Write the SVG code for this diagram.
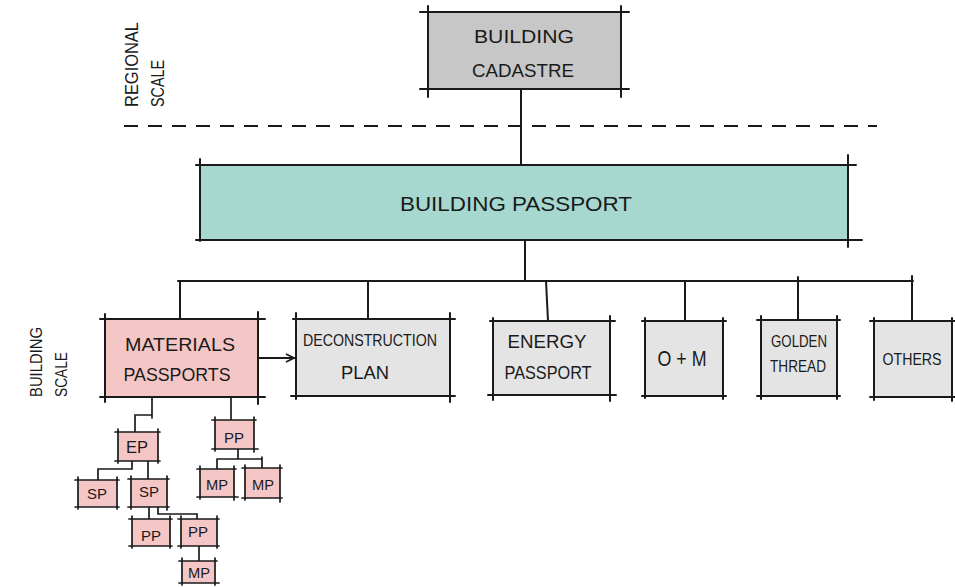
<svg xmlns="http://www.w3.org/2000/svg" width="955" height="587" viewBox="0 0 955 587">
<defs>
<style>
.ln{fill:none;stroke:#1a1a1a;stroke-width:2;stroke-linecap:round}
.thin{fill:none;stroke:#1a1a1a;stroke-width:1.7;stroke-linecap:round}
.t{font-family:"Liberation Sans","DejaVu Sans",sans-serif;fill:#1a1a1a;text-anchor:middle;font-weight:normal}
.side{font-family:"Liberation Sans","DejaVu Sans",sans-serif;fill:#1a1a1a}
.gray{fill:#c7c7c7}
.teal{fill:#a6d8cf}
.pink{fill:#f5c6c6}
.lgray{fill:#e4e4e4}
</style>
<marker id="arr" viewBox="0 0 10 10" refX="9" refY="5" markerWidth="10" markerHeight="10" markerUnits="userSpaceOnUse" orient="auto">
<path d="M1 1 L9 5 L1 9" fill="none" stroke="#1a1a1a" stroke-width="1.6"/>
</marker>
</defs>
<rect width="955" height="587" fill="#ffffff"/>

<g id="labels">
<text class="side" font-size="19" transform="translate(138,107) rotate(-90)" textLength="85" lengthAdjust="spacingAndGlyphs">REGIONAL</text>
<text class="side" font-size="19" transform="translate(164,107) rotate(-90)" textLength="47" lengthAdjust="spacingAndGlyphs">SCALE</text>
<text class="side" font-size="16" transform="translate(42,397) rotate(-90)" textLength="70" lengthAdjust="spacingAndGlyphs">BUILDING</text>
<text class="side" font-size="16" transform="translate(67,397) rotate(-90)" textLength="45" lengthAdjust="spacingAndGlyphs">SCALE</text>
</g>

<g id="divider">
<path d="M124 126 H877" fill="none" stroke="#1a1a1a" stroke-width="1.8" stroke-dasharray="14 10"/>
</g>

<g id="connectors">
<path class="ln" d="M521 89 V165"/>
<path class="ln" d="M525 240 V281"/>
<path class="ln" d="M178 281 H913"/>
<path class="ln" d="M180 281 V319"/>
<path class="ln" d="M368 281 V319"/>
<path class="ln" d="M546 281 L548 321"/>
<path class="ln" d="M685 281 V321"/>
<path class="ln" d="M798 277 V320"/>
<path class="ln" d="M912 276 V321"/>
<path class="ln" d="M258 358 H294" marker-end="url(#arr)"/>
<path class="thin" d="M152 397 V415 H135 V432 M152 412 V418"/>
<path class="thin" d="M231 397 V420"/>
<path class="thin" d="M238 449 V459 M217 459 H262 M217 459 V469 M262 457 V468"/>
<path class="thin" d="M132 461 V469 H98 V480"/>
<path class="thin" d="M148 461 V479"/>
<path class="thin" d="M149 507 V519"/>
<path class="thin" d="M158 507 V514 H197 V519"/>
<path class="thin" d="M199 546 V561"/>
</g>

<g id="building-cadastre">
<rect class="gray" x="428" y="12" width="193" height="77"/>
<path class="ln" d="M420 12 H629 M420 89 H629 M428 6 V97 M621 6 V97"/>
<text class="t" font-size="19" x="524" y="43" textLength="100" lengthAdjust="spacingAndGlyphs">BUILDING</text>
<text class="t" font-size="19" x="523" y="77" textLength="102" lengthAdjust="spacingAndGlyphs">CADASTRE</text>
</g>

<g id="building-passport">
<rect class="teal" x="200" y="165" width="648" height="75"/>
<path class="ln" d="M196 165 H856 M196 240 H862 M200 159 V241 M848 155 V247"/>
<text class="t" font-size="21" x="516" y="211" textLength="232" lengthAdjust="spacingAndGlyphs">BUILDING    PASSPORT</text>
</g>

<g id="materials-passports">
<rect class="pink" x="105" y="319" width="153" height="78"/>
<path class="ln" d="M100 319 H265 M100 397 H265 M105 314 V402 M258 312 V404"/>
<text class="t" font-size="19" x="180" y="351" textLength="110" lengthAdjust="spacingAndGlyphs">MATERIALS</text>
<text class="t" font-size="19" x="177" y="381" textLength="107" lengthAdjust="spacingAndGlyphs">PASSPORTS</text>
</g>

<g id="deconstruction-plan">
<rect class="lgray" x="296" y="319" width="154" height="77"/>
<path class="ln" d="M293 319 H455 M291 396 H455 M296 313 V399 M450 313 V402"/>
<text class="t" font-size="17" x="370" y="346" textLength="134" lengthAdjust="spacingAndGlyphs">DECONSTRUCTION</text>
<text class="t" font-size="19" x="365" y="379" textLength="48" lengthAdjust="spacingAndGlyphs">PLAN</text>
</g>

<g id="energy-passport">
<rect class="lgray" x="493" y="321" width="117" height="74"/>
<path class="ln" d="M490 321 H615 M488 395 H616 M493 318 V400 M610 316 V401"/>
<text class="t" font-size="18" x="547" y="348" textLength="79" lengthAdjust="spacingAndGlyphs">ENERGY</text>
<text class="t" font-size="19" x="548" y="379" textLength="87" lengthAdjust="spacingAndGlyphs">PASSPORT</text>
</g>

<g id="o-m">
<rect class="lgray" x="645" y="321" width="78" height="75"/>
<path class="ln" d="M642 321 H726 M642 396 H726 M645 318 V398 M723 318 V399"/>
<text class="t" font-size="22" x="682" y="366" textLength="49" lengthAdjust="spacingAndGlyphs">O + M</text>
</g>

<g id="golden-thread">
<rect class="lgray" x="761" y="320" width="76" height="76"/>
<path class="ln" d="M757 320 H840 M757 396 H840 M761 316 V399 M837 316 V399"/>
<text class="t" font-size="17" x="799" y="347" textLength="56" lengthAdjust="spacingAndGlyphs">GOLDEN</text>
<text class="t" font-size="17" x="798" y="372" textLength="56" lengthAdjust="spacingAndGlyphs">THREAD</text>
</g>

<g id="others">
<rect class="lgray" x="874" y="321" width="79" height="76"/>
<path class="ln" d="M870 321 H956 M870 397 H956 M874 318 V400 M952 318 V401"/>
<text class="t" font-size="17" x="912" y="365" textLength="59" lengthAdjust="spacingAndGlyphs">OTHERS</text>
</g>

<g id="ep">
<rect class="pink" x="118" y="432" width="40" height="29"/>
<path class="thin" d="M115 432 H160 M115 461 H160 M118 429 V463 M158 429 V463"/>
<text class="t" font-size="16" x="137" y="453" textLength="22" lengthAdjust="spacingAndGlyphs">EP</text>
</g>

<g id="pp-right">
<rect class="pink" x="215" y="420" width="39" height="29"/>
<path class="thin" d="M212 420 H256 M212 449 H258 M215 417 V451 M254 417 V452"/>
<text class="t" font-size="15" x="234" y="443" textLength="20" lengthAdjust="spacingAndGlyphs">PP</text>
</g>

<g id="mp-1">
<rect class="pink" x="200" y="469" width="34" height="28"/>
<path class="thin" d="M197 469 H236 M197 497 H238 M200 466 V499 M234 466 V500"/>
<text class="t" font-size="15" x="217" y="490" textLength="22" lengthAdjust="spacingAndGlyphs">MP</text>
</g>

<g id="mp-2">
<rect class="pink" x="245" y="468" width="35" height="30"/>
<path class="thin" d="M242 468 H282 M242 498 H282 M245 465 V500 M280 465 V502"/>
<text class="t" font-size="15" x="263" y="490" textLength="22" lengthAdjust="spacingAndGlyphs">MP</text>
</g>

<g id="sp-1">
<rect class="pink" x="78" y="480" width="39" height="27"/>
<path class="thin" d="M75 480 H119 M75 507 H119 M78 477 V509 M117 477 V509"/>
<text class="t" font-size="15" x="97" y="499" textLength="20" lengthAdjust="spacingAndGlyphs">SP</text>
</g>

<g id="sp-2">
<rect class="pink" x="131" y="479" width="36" height="28"/>
<path class="thin" d="M128 479 H169 M128 507 H169 M131 476 V509 M167 476 V510"/>
<text class="t" font-size="15" x="149" y="497" textLength="20" lengthAdjust="spacingAndGlyphs">SP</text>
</g>

<g id="pp-a">
<rect class="pink" x="132" y="519" width="38" height="27"/>
<path class="thin" d="M129 519 H172 M129 546 H172 M132 516 V548 M170 516 V548"/>
<text class="t" font-size="15" x="151" y="541" textLength="20" lengthAdjust="spacingAndGlyphs">PP</text>
</g>

<g id="pp-b">
<rect class="pink" x="181" y="519" width="36" height="27"/>
<path class="thin" d="M178 519 H219 M178 546 H219 M181 516 V548 M217 516 V548"/>
<text class="t" font-size="15" x="198" y="537" textLength="20" lengthAdjust="spacingAndGlyphs">PP</text>
</g>

<g id="mp-b">
<rect class="pink" x="182" y="561" width="33" height="22"/>
<path class="thin" d="M179 561 H217 M179 583 H219 M182 558 V585 M215 558 V585"/>
<text class="t" font-size="15" x="199" y="578" textLength="22" lengthAdjust="spacingAndGlyphs">MP</text>
</g>
</svg>
